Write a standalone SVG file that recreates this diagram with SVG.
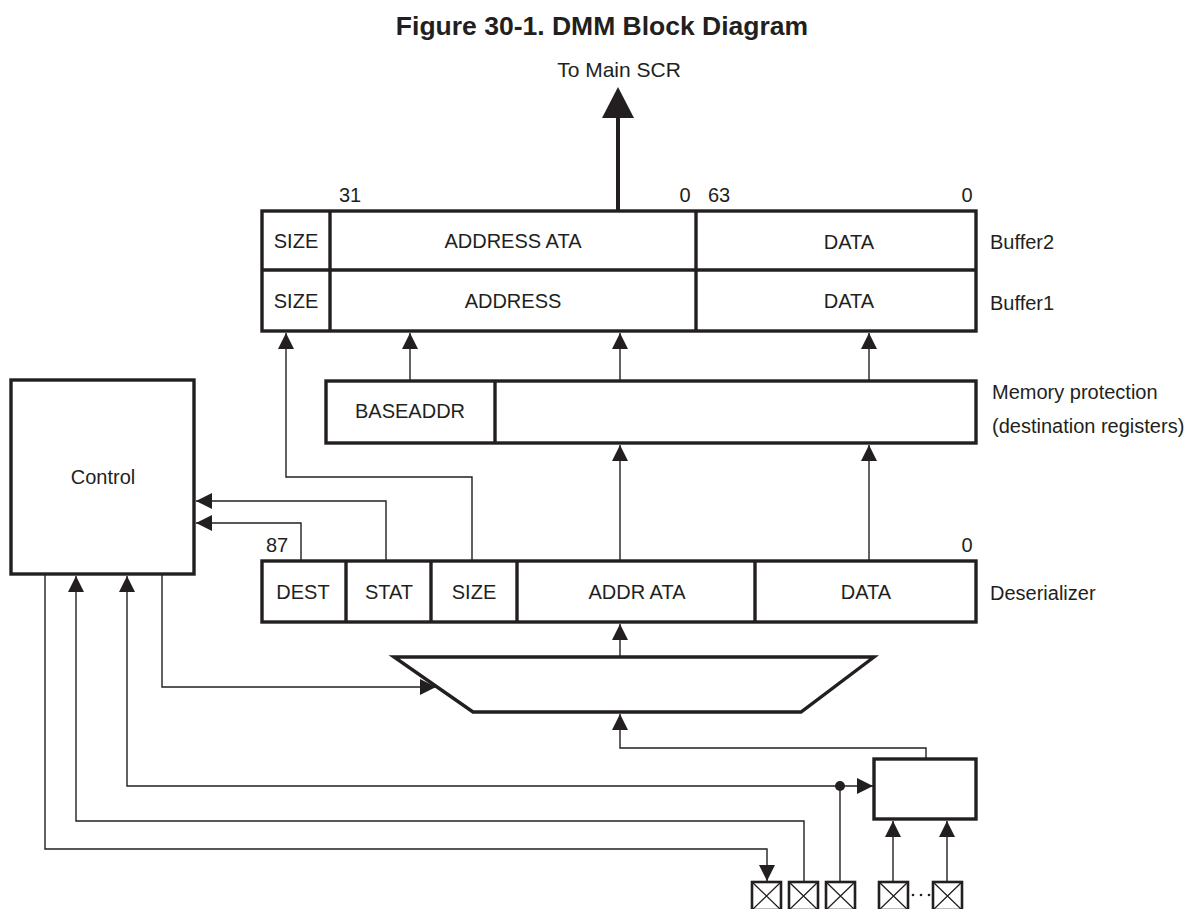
<svg xmlns="http://www.w3.org/2000/svg" width="1200" height="909" viewBox="0 0 1200 909">
<style>
.box{fill:#fff;stroke:#231f20;stroke-width:3.4}
.div{stroke:#231f20;stroke-width:3.4;fill:none}
.wire{fill:none;stroke:#231f20;stroke-width:1.4}
.t{font-family:"Liberation Sans",Arial,sans-serif;font-size:20px;fill:#231f20}
.c{text-anchor:middle}
.pin{fill:#fff;stroke:#231f20;stroke-width:2.6}
.x{stroke:#231f20;stroke-width:1.3}
</style>
<defs>
<marker id="arr" viewBox="0 0 16 16" markerWidth="16" markerHeight="16" refX="16" refY="8" orient="auto" markerUnits="userSpaceOnUse">
<path d="M0,0 L16,8 L0,16 z" fill="#231f20"/>
</marker>
</defs>
<rect width="1200" height="909" fill="#fff"/>
<text x="602" y="35" class="t c" style="font-size:26.5px;font-weight:bold">Figure 30-1. DMM Block Diagram</text>
<text x="619" y="77" class="t c" style="font-size:21px">To Main SCR</text>

<g id="connectors">
<line x1="618" y1="211" x2="618" y2="116" stroke="#231f20" stroke-width="4"/>
<polygon points="618,87 602,118 634,118" fill="#231f20"/>
<path class="wire" d="M472,561 V477 H286 V333" marker-end="url(#arr)"/>
<path class="wire" d="M410,381 V333" marker-end="url(#arr)"/>
<path class="wire" d="M620,381 V333" marker-end="url(#arr)"/>
<path class="wire" d="M869,381 V333" marker-end="url(#arr)"/>
<path class="wire" d="M620,561 V445" marker-end="url(#arr)"/>
<path class="wire" d="M869,561 V445" marker-end="url(#arr)"/>
<path class="wire" d="M386,561 V501 H196" marker-end="url(#arr)"/>
<path class="wire" d="M301,561 V523 H196" marker-end="url(#arr)"/>
<path class="wire" d="M620,657 V624" marker-end="url(#arr)"/>
<path class="wire" d="M162,574 V687 H436" marker-end="url(#arr)"/>
<path class="wire" d="M926,759 V748 H620 V714" marker-end="url(#arr)"/>
<path class="wire" d="M840,882 V786"/>
<path class="wire" d="M840,786 H127 V576" marker-end="url(#arr)"/>
<path class="wire" d="M840,786 H873" marker-end="url(#arr)"/>
<circle cx="840" cy="786" r="5" fill="#231f20"/>
<path class="wire" d="M804,882 V821 H76 V576" marker-end="url(#arr)"/>
<path class="wire" d="M45,574 V849 H767 V881" marker-end="url(#arr)"/>
<path class="wire" d="M893,882 V821" marker-end="url(#arr)"/>
<path class="wire" d="M947,882 V821" marker-end="url(#arr)"/>
</g>

<g id="buffers">
<rect class="box" x="262" y="211" width="714" height="120"/>
<line class="div" x1="262" y1="270" x2="976" y2="270"/>
<line class="div" x1="330" y1="211" x2="330" y2="331"/>
<line class="div" x1="696" y1="211" x2="696" y2="331"/>
<text x="350" y="202" class="t c">31</text>
<text x="685" y="202" class="t c">0</text>
<text x="719" y="202" class="t c">63</text>
<text x="967" y="202" class="t c">0</text>
<text x="296" y="248" class="t c">SIZE</text>
<text x="513" y="248" class="t c">ADDRESS ATA</text>
<text x="849" y="249" class="t c">DATA</text>
<text x="296" y="308" class="t c">SIZE</text>
<text x="513" y="308" class="t c">ADDRESS</text>
<text x="849" y="308" class="t c">DATA</text>
<text x="990" y="249" class="t">Buffer2</text>
<text x="990" y="310" class="t">Buffer1</text>
</g>

<g id="memprot">
<rect class="box" x="326" y="381" width="650" height="62"/>
<line class="div" x1="495" y1="381" x2="495" y2="443"/>
<text x="410" y="418" class="t c">BASEADDR</text>
<text x="992" y="399" class="t">Memory protection</text>
<text x="992" y="433" class="t">(destination registers)</text>
</g>

<g id="control">
<rect class="box" x="11" y="380" width="183" height="194"/>
<text x="103" y="484" class="t c">Control</text>
</g>

<g id="deserializer">
<rect class="box" x="262" y="561" width="714" height="61"/>
<line class="div" x1="346" y1="561" x2="346" y2="622"/>
<line class="div" x1="431" y1="561" x2="431" y2="622"/>
<line class="div" x1="517" y1="561" x2="517" y2="622"/>
<line class="div" x1="755" y1="561" x2="755" y2="622"/>
<text x="277" y="552" class="t c">87</text>
<text x="967" y="552" class="t c">0</text>
<text x="303" y="599" class="t c">DEST</text>
<text x="389" y="599" class="t c">STAT</text>
<text x="474" y="599" class="t c">SIZE</text>
<text x="637" y="599" class="t c">ADDR ATA</text>
<text x="866" y="599" class="t c">DATA</text>
<text x="990" y="600" class="t">Deserializer</text>
</g>

<g id="mux">
<polygon class="box" points="394,657 874,657 801,712 473,712"/>
</g>

<g id="smallbox">
<rect class="box" x="874" y="759" width="102" height="60"/>
</g>

<g id="pins">
<rect class="pin" x="752" y="882" width="29" height="28"/>
<path class="x" d="M752,882 L781,910 M781,882 L752,910"/>
<rect class="pin" x="789" y="882" width="29" height="28"/>
<path class="x" d="M789,882 L818,910 M818,882 L789,910"/>
<rect class="pin" x="826" y="882" width="29" height="28"/>
<path class="x" d="M826,882 L855,910 M855,882 L826,910"/>
<rect class="pin" x="879" y="882" width="29" height="28"/>
<path class="x" d="M879,882 L908,910 M908,882 L879,910"/>
<rect class="pin" x="933" y="882" width="29" height="28"/>
<path class="x" d="M933,882 L962,910 M962,882 L933,910"/>
<circle cx="913" cy="895" r="1.3" fill="#231f20"/>
<circle cx="921" cy="895" r="1.3" fill="#231f20"/>
<circle cx="929" cy="895" r="1.3" fill="#231f20"/>
</g>
</svg>
